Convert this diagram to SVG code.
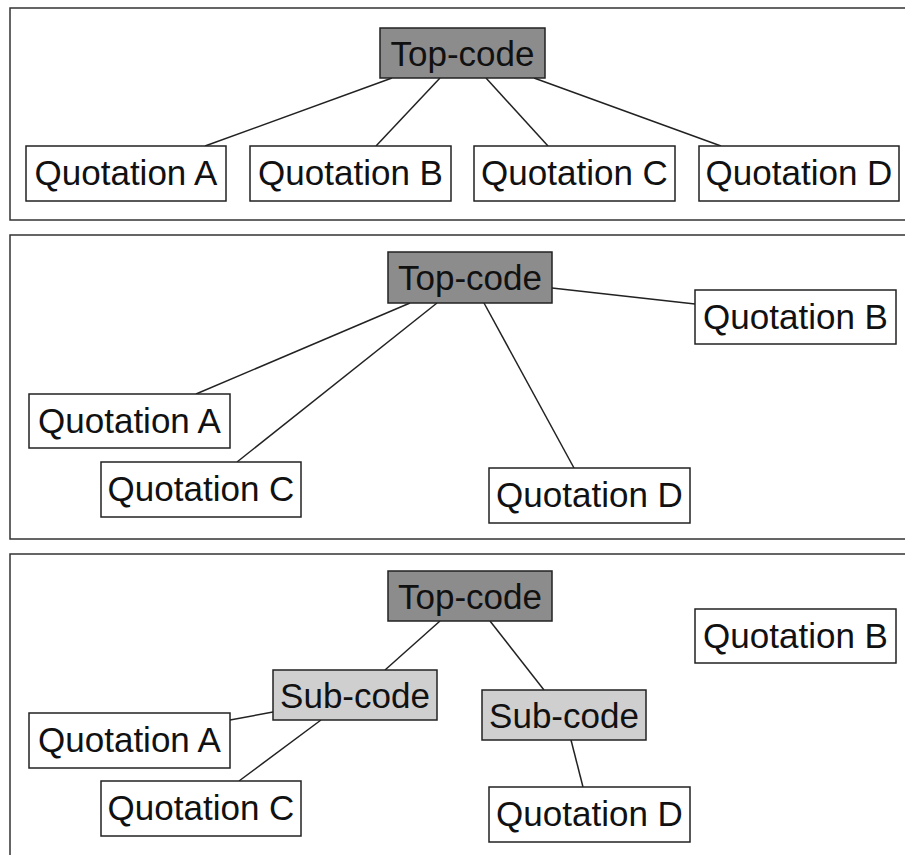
<svg xmlns="http://www.w3.org/2000/svg" width="905" height="855" viewBox="0 0 905 855">
<style>
.frame{fill:none;stroke:#333;stroke-width:1.5}
.q{fill:#fff;stroke:#222;stroke-width:1.5}
.top{fill:#8c8c8c;stroke:#222;stroke-width:1.5}
.sub{fill:#cfcfcf;stroke:#222;stroke-width:1.5}
text{font-family:"Liberation Sans",Arial,sans-serif;font-size:35px;fill:#111;text-anchor:middle}
.edges line{stroke:#222;stroke-width:1.5}
</style>
<rect width="905" height="855" fill="#fff"/>
<g id="frames">
<rect class="frame" x="10" y="8" width="910" height="212"/>
<rect class="frame" x="10" y="235" width="910" height="304"/>
<rect class="frame" x="10" y="554" width="910" height="320"/>
</g>
<g class="edges" id="connectors">
<line x1="392" y1="78" x2="205" y2="146"/>
<line x1="440" y1="78" x2="376" y2="146"/>
<line x1="486" y1="78" x2="548" y2="146"/>
<line x1="534" y1="78" x2="721" y2="146"/>
<line x1="410" y1="303" x2="196" y2="394"/>
<line x1="437" y1="303" x2="237" y2="462"/>
<line x1="484" y1="303" x2="574" y2="468"/>
<line x1="552" y1="288" x2="695" y2="304"/>
<line x1="440" y1="621" x2="385" y2="670"/>
<line x1="490" y1="621" x2="544" y2="690"/>
<line x1="273" y1="712" x2="230" y2="720"/>
<line x1="321" y1="720" x2="239" y2="781"/>
<line x1="571" y1="740" x2="583" y2="787"/>
</g>
<g id="p1-top"><rect class="top" x="380" y="28" width="165" height="50"/><text x="462.5" y="66">Top-code</text></g>
<g id="p1-qa"><rect class="q" x="26" y="146" width="200" height="55"/><text x="126" y="185">Quotation A</text></g>
<g id="p1-qb"><rect class="q" x="250" y="146" width="201" height="55"/><text x="350.5" y="185">Quotation B</text></g>
<g id="p1-qc"><rect class="q" x="474" y="146" width="201" height="55"/><text x="574.5" y="185">Quotation C</text></g>
<g id="p1-qd"><rect class="q" x="699" y="146" width="200" height="55"/><text x="799" y="185">Quotation D</text></g>

<g id="p2-top"><rect class="top" x="388" y="252" width="164" height="51"/><text x="470" y="290">Top-code</text></g>
<g id="p2-qb"><rect class="q" x="695" y="290" width="201" height="54"/><text x="795.5" y="329">Quotation B</text></g>
<g id="p2-qa"><rect class="q" x="29" y="394" width="201" height="54"/><text x="129.5" y="433">Quotation A</text></g>
<g id="p2-qc"><rect class="q" x="101" y="462" width="200" height="55"/><text x="201" y="501">Quotation C</text></g>
<g id="p2-qd"><rect class="q" x="489" y="468" width="201" height="55"/><text x="589.5" y="507">Quotation D</text></g>

<g id="p3-top"><rect class="top" x="388" y="571" width="164" height="50"/><text x="470" y="609">Top-code</text></g>
<g id="p3-qb"><rect class="q" x="695" y="609" width="201" height="54"/><text x="795.5" y="648">Quotation B</text></g>
<g id="p3-sub1"><rect class="sub" x="273" y="670" width="164" height="50"/><text x="355" y="708">Sub-code</text></g>
<g id="p3-sub2"><rect class="sub" x="482" y="690" width="164" height="50"/><text x="564" y="728">Sub-code</text></g>
<g id="p3-qa"><rect class="q" x="29" y="713" width="201" height="55"/><text x="129.5" y="752">Quotation A</text></g>
<g id="p3-qc"><rect class="q" x="101" y="781" width="200" height="55"/><text x="201" y="820">Quotation C</text></g>
<g id="p3-qd"><rect class="q" x="489" y="787" width="201" height="55"/><text x="589.5" y="826">Quotation D</text></g>
</svg>
